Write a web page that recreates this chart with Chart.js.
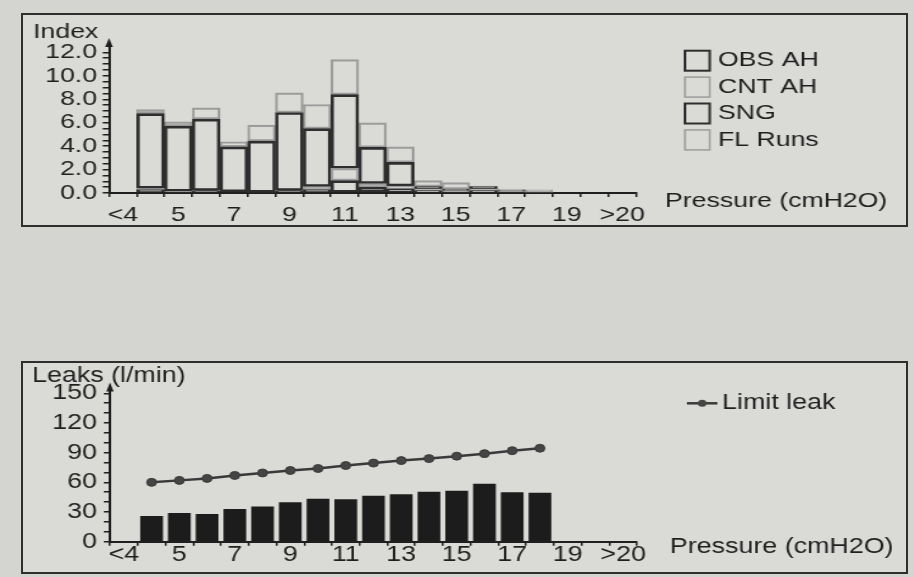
<!DOCTYPE html>
<html><head><meta charset="utf-8">
<script src="https://cdn.jsdelivr.net/npm/chart.js@4.4.1/dist/chart.umd.min.js"></script>
<style>
html,body{margin:0;padding:0;background:#d4d4d1;width:914px;height:577px;overflow:hidden;}
.frame{position:absolute;border:2px solid #2e2e2e;box-sizing:border-box;background:#dadad7;}
.wrap{position:absolute;transform-origin:0 0;}
canvas{display:block;}
</style></head><body>
<div class="frame" style="left:21px;top:13px;width:887px;height:214px"></div>
<div class="frame" style="left:21px;top:361px;width:887px;height:213px"></div>
<div class="wrap" style="left:22px;top:15px;transform:scaleX(1.27)"><canvas id="c1" width="697" height="210"></canvas></div>
<div class="wrap" style="left:22px;top:362px;transform:scaleX(1.22)"><canvas id="c2" width="725" height="211"></canvas></div>
<script>
// ---- data ----
const pressureLabels = ['<4','4','5','6','7','8','9','10','11','12','13','14','15','16','17','18','19','20','>20'];
const obsAH   = [0, 0.30, 0.10, 0.15, 0.10, 0.05, 0.15, 0.30, 1.05, 0.50, 0.35, 0.20, 0.10, 0.20, 0.10, 0.05, 0, 0, 0];
const cntAH   = [0, 0.10, 0.05, 0.05, 0.00, 0.00, 0.05, 0.25, 1.05, 0.30, 0.25, 0.15, 0.10, 0.15, 0.05, 0.05, 0, 0, 0];
const sng     = [0, 6.38, 5.55, 6.10, 3.84, 4.37, 6.67, 4.95, 6.30, 3.09, 2.01, 0.19, 0.14, 0.19, 0.05, 0.00, 0, 0, 0];
const flRuns  = [0, 0.34, 0.37, 0.96, 0.43, 1.37, 1.67, 2.05, 2.98, 2.09, 1.33, 0.51, 0.54, 0.06, 0.14, 0.16, 0, 0, 0];
const leaks     = [null, 26, 29, 28, 33, 35.5, 40, 43.5, 43, 46.5, 48, 50.5, 51.5, 58.5, 50, 49.5, null, null, null];
const limitLeak = [null, 60, 62, 64, 67, 69.5, 72, 74, 77, 79.5, 82, 84, 86.5, 89, 92, 94.5, null, null, null];
const indexTicks = [0, 2, 4, 6, 8, 10, 12];
const indexMinorTicks = [0,0.5,1,1.5,2,2.5,3,3.5,4,4.5,5,5.5,6,6.5,7,7.5,8,8.5,9,9.5,10,10.5,11,11.5,12];
const leakTicks = [0, 30, 60, 90, 120, 150];
const leakMinorTicks = [0,10,20,30,40,50,60,70,80,90,100,110,120,130,140,150];

const FONT = '"Liberation Sans", Arial, sans-serif';
const INK = '#1f1f1f';
const DARK = '#2e2e2e';
const LIGHT = '#9c9c9c';

const decor = {
  id: 'decor',
  afterDraw(chart, args, o) {
    const ctx = chart.ctx, ca = chart.chartArea;
    ctx.save();
    ctx.fillStyle = INK;
    ctx.beginPath();
    ctx.moveTo(ca.left, ca.top - 5);
    ctx.lineTo(ca.left - 3, ca.top + 4);
    ctx.lineTo(ca.left + 3, ca.top + 4);
    ctx.closePath(); ctx.fill();
    ctx.font = o.size + 'px ' + FONT;
    ctx.textBaseline = 'middle'; ctx.textAlign = 'left';
    ctx.fillText(o.xTitle, o.xTitleX, o.xTitleY);
    let y = o.legY;
    chart.data.datasets.forEach(ds => {
      if (ds.inLegend === false) return;
      if (ds.type === 'line') {
        ctx.strokeStyle = ds.borderColor; ctx.lineWidth = 2.5;
        ctx.beginPath(); ctx.moveTo(o.legX, y); ctx.lineTo(o.legX + 25, y); ctx.stroke();
        ctx.fillStyle = ds.pointBackgroundColor;
        ctx.beginPath(); ctx.arc(o.legX + 12.5, y, 3.5, 0, Math.PI * 2); ctx.fill();
      } else {
        ctx.strokeStyle = ds.borderColor; ctx.lineWidth = ds.borderWidth;
        ctx.strokeRect(o.legX, y - 10, 19.5, 20);
      }
      ctx.fillStyle = INK;
      ctx.fillText(ds.label, o.legTextX, y);
      y += o.legStep;
    });
    ctx.restore();
  }
};

function xAxis(height, tickPad, size) {
  return {
    type: 'category', offset: true,
    grid: { offset: true, drawOnChartArea: false, tickLength: 4, color: INK, lineWidth: 1.5 },
    border: { display: true, color: INK, width: 2 },
    ticks: {
      autoSkip: false, maxRotation: 0, padding: tickPad, color: INK,
      font: { family: FONT, size: size },
      callback: function (v, i) { return i % 2 === 0 ? this.getLabelForValue(v) : ''; }
    },
    afterFit: s => { s.height = height; }
  };
}

// ---- top chart ----
new Chart(document.getElementById('c1'), {
  type: 'bar',
  data: {
    labels: pressureLabels,
    datasets: [
      { label: 'OBS AH', data: obsAH, borderColor: DARK, borderWidth: 2 },
      { label: 'CNT AH', data: cntAH, borderColor: LIGHT, borderWidth: 1.5 },
      { label: 'SNG', data: sng, borderColor: DARK, borderWidth: 2 },
      { label: 'FL Runs', data: flRuns, borderColor: LIGHT, borderWidth: 1.5 }
    ].map(d => Object.assign(d, { backgroundColor: 'rgba(0,0,0,0)', borderSkipped: false, barPercentage: 1, categoryPercentage: 1 }))
  },
  options: {
    responsive: false, animation: false,
    layout: { padding: { left: 8.7, right: 213.5, top: 0, bottom: 0 } },
    scales: {
      x: Object.assign(xAxis(32, 5.4, 21), { stacked: true }),
      y: {
        stacked: true, min: 0, max: 12.8,
        grid: { drawOnChartArea: false, tickLength: 5, color: INK, lineWidth: 1.5 },
        border: { display: true, color: INK, width: 2 },
        afterBuildTicks: s => { s.ticks = indexMinorTicks.map(v => ({ value: v })); },
        ticks: {
          autoSkip: false, padding: 4.4, color: INK,
          font: { family: FONT, size: 21 },
          callback: v => indexTicks.includes(v) ? v.toFixed(1) : ''
        },
        afterFit: s => { s.width = 59.8; }
      }
    },
    plugins: {
      legend: { display: false },
      tooltip: { enabled: false },
      title: { display: true, text: 'Index', align: 'start', color: INK,
               font: { family: FONT, size: 21, weight: 'normal', lineHeight: 1 }, padding: { top: 7, bottom: 0 } },
      decor: { size: 21, xTitle: 'Pressure (cmH2O)', xTitleX: 506.3, xTitleY: 186,
               legX: 522, legTextX: 548, legY: 45.7, legStep: 26.4 }
    }
  },
  plugins: [decor]
});

// ---- bottom chart ----
new Chart(document.getElementById('c2'), {
  type: 'bar',
  data: {
    labels: pressureLabels,
    datasets: [
      { type: 'line', label: 'Limit leak', data: limitLeak, borderColor: '#3a3a3a', borderWidth: 2.5,
        pointRadius: 4, pointBackgroundColor: '#454545', pointBorderColor: '#3a3a3a', pointBorderWidth: 1, tension: 0 },
      { type: 'bar', label: 'Leaks', data: leaks, inLegend: false, backgroundColor: '#1c1c1c',
        borderWidth: 0, barPercentage: 0.82, categoryPercentage: 1 }
    ]
  },
  options: {
    responsive: false, animation: false,
    layout: { padding: { left: 8.2, right: 220.9, top: 0, bottom: 0 } },
    scales: {
      x: xAxis(31.3, -3.5, 22),
      y: {
        min: 0, max: 156,
        grid: { drawOnChartArea: false, tickLength: 5, color: INK, lineWidth: 1.5 },
        border: { display: true, color: INK, width: 2 },
        afterBuildTicks: s => { s.ticks = leakMinorTicks.map(v => ({ value: v })); },
        ticks: {
          autoSkip: false, padding: 5.6, color: INK,
          font: { family: FONT, size: 22 },
          callback: v => leakTicks.includes(v) ? String(v) : ''
        },
        afterFit: s => { s.width = 63.9; }
      }
    },
    plugins: {
      legend: { display: false },
      tooltip: { enabled: false },
      title: { display: true, text: 'Leaks (l/min)', align: 'start', color: INK,
               font: { family: FONT, size: 22, weight: 'normal', lineHeight: 1 }, padding: { top: 3, bottom: 0.4 } },
      decor: { size: 22, xTitle: 'Pressure (cmH2O)', xTitleX: 531, xTitleY: 185,
               legX: 545, legTextX: 573.8, legY: 41.3, legStep: 26 }
    }
  },
  plugins: [decor]
});
</script>
</body></html>
